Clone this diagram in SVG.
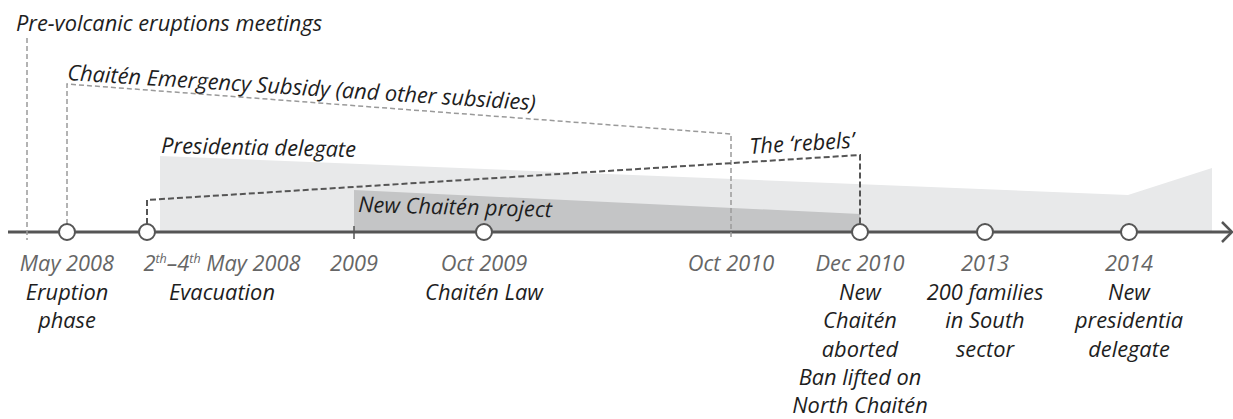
<svg xmlns="http://www.w3.org/2000/svg" width="1233" height="419" viewBox="0 0 1233 419">
<style>
text{font-family:"Open Sans",Lato,"Liberation Sans",sans-serif;font-style:italic;font-size:21.8px}
.date{fill:#666;text-anchor:middle}
.ev{fill:#1e1e1e;text-anchor:middle}
.lab{fill:#1e1e1e}
.dl{fill:none;stroke:#9a9a9a;stroke-width:1.5;stroke-dasharray:5 3}
.dr{fill:none;stroke:#555;stroke-width:2;stroke-dasharray:6 3}
.node{fill:#fff;stroke:#555;stroke-width:2}
</style>
<rect width="1233" height="419" fill="#fff"/>
<g id="bands">
<polygon points="160,156 1128,195 1212,168 1212,232 160,232" fill="#e8e9ea"/>
<polygon points="354,190 860,214 860,232 354,232" fill="#c4c5c6"/>
</g>
<g id="connectors">
<line x1="8" y1="232" x2="1231" y2="232" stroke="#555" stroke-width="3"/>
<polyline points="1222,222 1232,232 1222,242" fill="none" stroke="#555" stroke-width="2.5"/>
<line class="dl" x1="27" y1="38" x2="27" y2="240"/>
<polyline class="dl" points="67,224 67,84 731,134 731,239"/>
<polyline class="dr" points="147,224 147,200 860,155 860,224"/>
<line x1="354" y1="226" x2="354" y2="239" stroke="#555" stroke-width="1.5"/>
</g>
<g id="span-labels">
<text class="lab" x="16" y="31">Pre-volcanic eruptions meetings</text>
<text class="lab" x="67" y="80" transform="rotate(3.7 67 80)">Chaitén Emergency Subsidy (and other subsidies)</text>
<text class="lab" x="161" y="153" transform="rotate(1.2 161 153)">Presidentia delegate</text>
<text class="lab" x="750" y="154" transform="rotate(-3.5 750 154)">The ‘rebels’</text>
<text class="lab" x="358" y="212" transform="rotate(1.5 358 212)">New Chaitén project</text>
</g>
<g id="n-may2008">
<circle class="node" cx="67" cy="232" r="8"/>
<text class="date" x="67" y="271">May 2008</text>
<text class="ev" x="67" y="300">Eruption</text>
<text class="ev" x="67" y="328">phase</text>
</g>
<g id="n-evac">
<circle class="node" cx="147" cy="232" r="8"/>
<text class="date" x="222" y="271">2<tspan font-size="12.5" baseline-shift="super">th</tspan>–4<tspan font-size="12.5" baseline-shift="super">th</tspan> May 2008</text>
<text class="ev" x="222" y="300">Evacuation</text>
</g>
<g id="n-2009">
<text class="date" x="354" y="271">2009</text>
</g>
<g id="n-oct2009">
<circle class="node" cx="484" cy="232" r="8"/>
<text class="date" x="484" y="271">Oct 2009</text>
<text class="ev" x="484" y="300">Chaitén Law</text>
</g>
<g id="n-oct2010">
<text class="date" x="731" y="271">Oct 2010</text>
</g>
<g id="n-dec2010">
<circle class="node" cx="860" cy="232" r="8"/>
<text class="date" x="860" y="271">Dec 2010</text>
<text class="ev" x="860" y="300">New</text>
<text class="ev" x="860" y="328">Chaitén</text>
<text class="ev" x="860" y="357">aborted</text>
<text class="ev" x="860" y="385">Ban lifted on</text>
<text class="ev" x="860" y="413">North Chaitén</text>
</g>
<g id="n-2013">
<circle class="node" cx="985" cy="232" r="8"/>
<text class="date" x="985" y="271">2013</text>
<text class="ev" x="985" y="300">200 families</text>
<text class="ev" x="985" y="328">in South</text>
<text class="ev" x="985" y="357">sector</text>
</g>
<g id="n-2014">
<circle class="node" cx="1129" cy="232" r="8"/>
<text class="date" x="1129" y="271">2014</text>
<text class="ev" x="1129" y="300">New</text>
<text class="ev" x="1129" y="328">presidentia</text>
<text class="ev" x="1129" y="357">delegate</text>
</g>
</svg>
